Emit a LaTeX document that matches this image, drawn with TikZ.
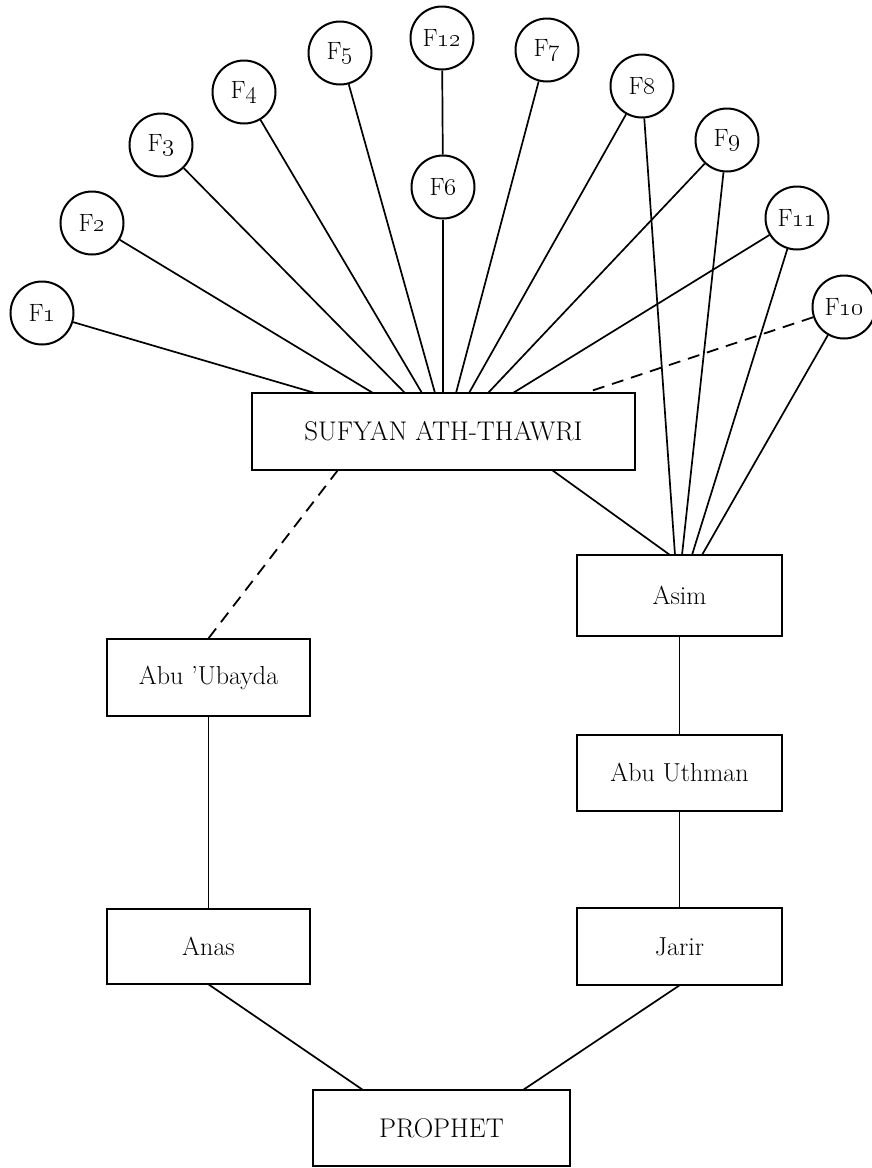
\RequirePackage{fix-cm}
\documentclass[tikz,border=0pt]{standalone}
\usetikzlibrary{calc}
\begin{document}
\begin{tikzpicture}[x=1pt,y=-1pt,
  conn/.style={line width=1.7pt},
  dashconn/.style={line width=1.8pt,dash pattern=on 12pt off 8pt},
  namebox/.style={draw,line width=2.2pt,rectangle,inner sep=0pt,font=\fontsize{26}{30}\selectfont},
  capbox/.style={namebox,font=\fontsize{27}{31}\selectfont},
  fcirc/.style={draw,line width=2pt,circle,minimum size=63pt,inner sep=0pt,font=\fontsize{25}{29}\selectfont}]
\useasboundingbox[fill=white] (0,0) rectangle (872,1168);
% boxes
\node[capbox,minimum width=383pt,minimum height=77pt] (sufyan) at (443.5,431.5) {SUFYAN ATH-THAWRI};
\node[namebox,minimum width=205pt,minimum height=81pt] (asim) at (679.5,595.5) {Asim};
\node[namebox,minimum width=203pt,minimum height=77pt] (abuu) at (208.5,677.5) {Abu 'Ubayda};
\node[namebox,minimum width=205pt,minimum height=76pt] (uthman) at (679.5,773) {Abu Uthman};
\node[namebox,minimum width=203pt,minimum height=75pt] (anas) at (208.5,946.5) {Anas};
\node[namebox,minimum width=205pt,minimum height=77pt] (jarir) at (679.5,946.5) {Jarir};
\node[capbox,minimum width=257pt,minimum height=76pt] (prophet) at (441.5,1128) {PROPHET};
% circles
\node[fcirc] (f1) at (42,313) {F\oldstylenums{1}};
\node[fcirc] (f2) at (92,223) {F\oldstylenums{2}};
\node[fcirc] (f3) at (161,145) {F\oldstylenums{3}};
\node[fcirc] (f4) at (244,92) {F\oldstylenums{4}};
\node[fcirc] (f5) at (340,53) {F\oldstylenums{5}};
\node[fcirc] (f12) at (442,38) {F\oldstylenums{12}};
\node[fcirc] (f6) at (443,187) {F\oldstylenums{6}};
\node[fcirc] (f7) at (547,50) {F\oldstylenums{7}};
\node[fcirc] (f8) at (642,86) {F\oldstylenums{8}};
\node[fcirc] (f9) at (727,140) {F\oldstylenums{9}};
\node[fcirc] (f11) at (797,218) {F\oldstylenums{11}};
\node[fcirc] (f10) at (844,307) {F\oldstylenums{10}};
% attachment points
\coordinate (t1) at (315,393);
\coordinate (t2) at (373,393);
\coordinate (t3) at (405,393);
\coordinate (t4) at (422,393);
\coordinate (t5) at (435,393);
\coordinate (t6) at (443,393);
\coordinate (t7) at (456,393);
\coordinate (t8) at (469,393);
\coordinate (t9) at (488,393);
\coordinate (t11) at (513,393);
\coordinate (t10) at (585,393);
\coordinate (sb1) at (338,470);
\coordinate (sb2) at (552,470);
\coordinate (ua) at (208,639);
\coordinate (a0) at (670,555);
\coordinate (a8) at (675,555);
\coordinate (a9) at (682,555);
\coordinate (a11) at (692,555);
\coordinate (a10) at (702,555);
\coordinate (p1) at (363,1090);
\coordinate (p2) at (523,1090);
\coordinate (anb) at (208,984);
\coordinate (jab) at (680,985);
% connectors to Sufyan
\draw[conn] (f1) -- (t1);
\draw[conn] (f2) -- (t2);
\draw[conn] (f3) -- (t3);
\draw[conn] (f4) -- (t4);
\draw[conn] (f5) -- (t5);
\draw[conn] (f12) -- (f6);
\draw[conn] (f6) -- (t6);
\draw[conn] (f7) -- (t7);
\draw[conn] (f8) -- (t8);
\draw[conn] (f9) -- (t9);
\draw[conn] (f11) -- (t11);
\draw[dashconn] (f10) -- (t10);
% connectors to Asim
\draw[conn] (sb2) -- (a0);
\draw[conn] (f8) -- (a8);
\draw[conn] (f9) -- (a9);
\draw[conn] (f11) -- (a11);
\draw[conn] (f10) -- (a10);
% lower chains
\draw[dashconn] (sb1) -- (ua);
\draw[conn] (abuu) -- (anas);
\draw[conn] (asim) -- (uthman);
\draw[conn] (uthman) -- (jarir);
\draw[conn] (anb) -- (p1);
\draw[conn] (jab) -- (p2);
\end{tikzpicture}
\end{document}
